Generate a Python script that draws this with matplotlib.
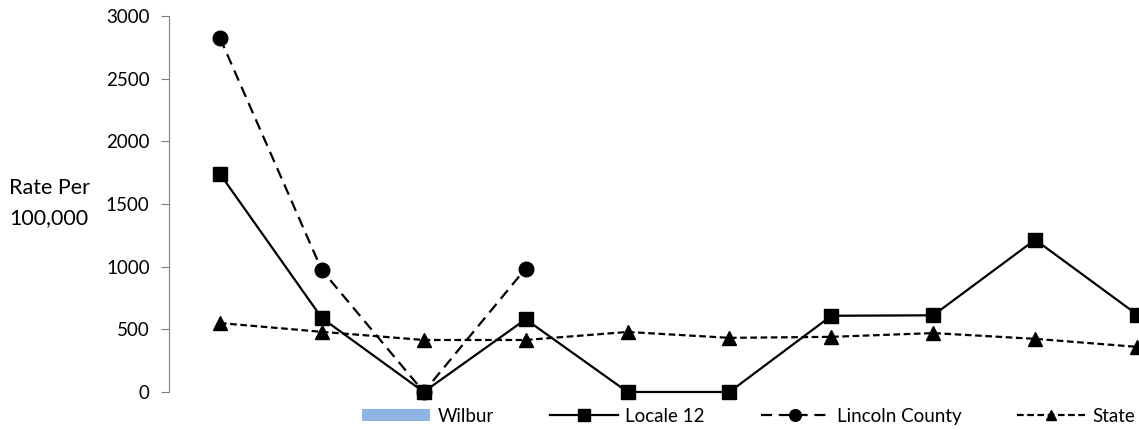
import numpy as np
import matplotlib.pyplot as plt

plt.rcParams['font.family'] = ['Lato', 'DejaVu Sans']

categories = np.arange(10)
wilbur = [0, 0, 0, 0, 0, 0, 0, 0, 0, 0]
locale12 = [1740, 590, 0, 580, 0, 0, 608, 612, 1215, 618]
lincoln = [2825, 972, 0, 985]
state = [550, 480, 415, 415, 479, 432, 440, 470, 424, 360]

fig = plt.figure(figsize=(11.39, 4.30), dpi=100)
ax = fig.add_axes([0.1484, 0.0884, 0.8946, 0.8744])

bars = ax.bar(categories, wilbur, width=0.6, color='#8eb4e3', label='Wilbur')
l1, = ax.plot(categories, locale12, color='black', lw=1.6, marker='s', ms=10,
              label='Locale 12', clip_on=False)
l2, = ax.plot(categories[:len(lincoln)], lincoln, color='black', lw=1.6,
              dashes=(5, 3), marker='o', ms=10.5, label='Lincoln County',
              clip_on=False)
l3, = ax.plot(categories, state, color='black', lw=1.6, dashes=(3, 1.6),
              marker='^', ms=9.5, label='State', clip_on=False)

ax.set_xlim(-0.5, 9.5)
ax.set_ylim(0, 3000)
ax.set_yticks(np.arange(0, 3001, 500))
ax.set_xticks([])
for s in ['top', 'right', 'bottom']:
    ax.spines[s].set_visible(False)
ax.spines['left'].set_color('#7f7f7f')
ax.tick_params(axis='y', labelsize=13.5, length=6, color='#7f7f7f', pad=8)

fig.text(0.008, 0.528, 'Rate Per\n100,000', fontsize=15.5, va='center',
         ha='left', linespacing=1.65)

fig.legend([bars, l1, l2, l3], ['Wilbur', 'Locale 12', 'Lincoln County', 'State'],
           loc='center left', bbox_to_anchor=(0.318, 0.032), ncol=4,
           frameon=False, fontsize=13.5, handlelength=3.6, borderpad=0,
           borderaxespad=0, handletextpad=0.42, columnspacing=3.0,
           handleheight=0.6, markerscale=0.8)

fig.savefig('out.png', dpi=100)
